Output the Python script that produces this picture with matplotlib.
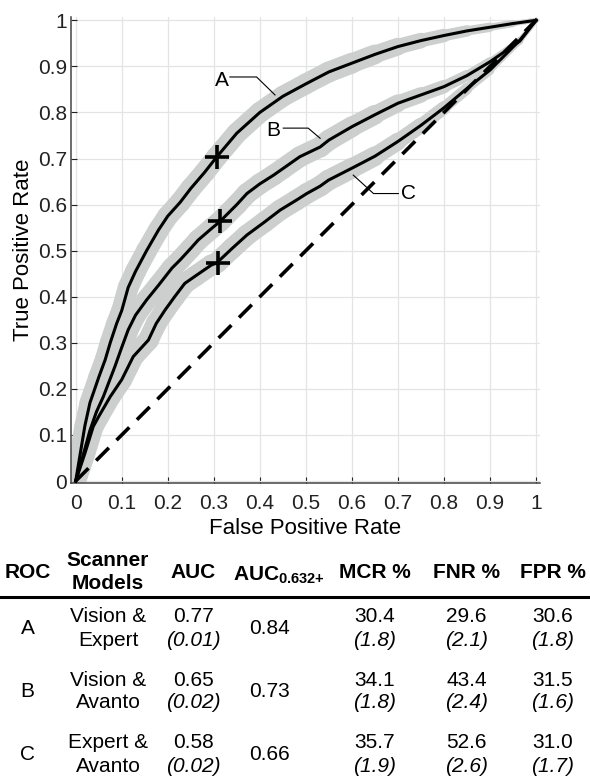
import numpy as np
import matplotlib
matplotlib.use('Agg')
import matplotlib.pyplot as plt
from matplotlib.collections import LineCollection
from matplotlib.lines import Line2D

plt.rcParams['font.family'] = ['Liberation Sans', 'DejaVu Sans']
plt.rcParams['mathtext.fontset'] = 'custom'
plt.rcParams['mathtext.rm'] = 'Liberation Sans'
plt.rcParams['mathtext.bf'] = 'Liberation Sans:bold'
plt.rcParams['mathtext.it'] = 'Liberation Sans:italic'

# ROC curves
fpr_a = [0, 0.01, 0.02, 0.031, 0.038, 0.05, 0.064, 0.075, 0.089, 0.1, 0.114, 0.13, 0.154,
         0.18, 0.2, 0.227, 0.25, 0.28, 0.306, 0.35, 0.4, 0.45, 0.5, 0.55, 0.6, 0.65, 0.7,
         0.75, 0.8, 0.85, 0.9, 0.95, 1.0]
tpr_a = [0, 0.06, 0.12, 0.17, 0.19, 0.225, 0.263, 0.30, 0.342, 0.37, 0.42, 0.455, 0.50,
         0.545, 0.575, 0.605, 0.635, 0.67, 0.703, 0.755, 0.80, 0.835, 0.862, 0.888, 0.907,
         0.926, 0.943, 0.956, 0.967, 0.977, 0.985, 0.993, 1.0]

fpr_b = [0, 0.01, 0.02, 0.031, 0.045, 0.06, 0.085, 0.1, 0.114, 0.13, 0.154, 0.18, 0.209,
         0.227, 0.25, 0.266, 0.295, 0.313, 0.35, 0.372, 0.4, 0.43, 0.45, 0.487, 0.531, 0.55,
         0.6, 0.65, 0.7, 0.75, 0.8, 0.85, 0.9, 0.965, 1.0]
tpr_b = [0, 0.035, 0.07, 0.11, 0.15, 0.183, 0.248, 0.29, 0.328, 0.36, 0.393, 0.425, 0.462,
         0.48, 0.505, 0.523, 0.548, 0.563, 0.60, 0.624, 0.645, 0.664, 0.678, 0.704, 0.725,
         0.74, 0.769, 0.795, 0.82, 0.838, 0.856, 0.88, 0.91, 0.955, 1.0]

fpr_c = [0, 0.01, 0.02, 0.038, 0.05, 0.075, 0.1, 0.114, 0.125, 0.158, 0.175, 0.194, 0.215,
         0.237, 0.26, 0.295, 0.306, 0.34, 0.372, 0.41, 0.444, 0.48, 0.502, 0.531, 0.549,
         0.6, 0.65, 0.7, 0.75, 0.8, 0.85, 0.9, 0.965, 1.0]
tpr_c = [0, 0.03, 0.06, 0.118, 0.14, 0.183, 0.22, 0.248, 0.27, 0.306, 0.342, 0.371, 0.40,
         0.429, 0.445, 0.469, 0.473, 0.505, 0.534, 0.562, 0.588, 0.61, 0.624, 0.64, 0.653,
         0.679, 0.705, 0.737, 0.772, 0.81, 0.852, 0.892, 0.957, 1.0]

# operating points (+)
op_fpr = [0.307, 0.314, 0.31]
op_tpr = [0.703, 0.565, 0.473]

ticks = [0, 0.1, 0.2, 0.3, 0.4, 0.5, 0.6, 0.7, 0.8, 0.9, 1]
tick_labels = ['0', '0.1', '0.2', '0.3', '0.4', '0.5', '0.6', '0.7', '0.8', '0.9', '1']

# table contents
roc_ids = ['A', 'B', 'C']
scanner_top = ['Vision &', 'Vision &', 'Expert &']
scanner_bot = ['Expert', 'Avanto', 'Avanto']
auc = ['0.77', '0.65', '0.58']
auc_sd = ['(0.01)', '(0.02)', '(0.02)']
auc632 = ['0.84', '0.73', '0.66']
mcr = ['30.4', '34.1', '35.7']
mcr_sd = ['(1.8)', '(1.8)', '(1.9)']
fnr = ['29.6', '43.4', '52.6']
fnr_sd = ['(2.1)', '(2.4)', '(2.6)']
fpr_v = ['30.6', '31.5', '31.0']
fpr_sd = ['(1.8)', '(1.6)', '(1.7)']

W, H = 590, 777
fig = plt.figure(figsize=(W / 100, H / 100), dpi=100)
ax = fig.add_axes([71 / W, 1 - 483 / H, 469 / W, 466 / H])


def band(x, y):
    x = np.asarray(x)
    y = np.asarray(y)
    pts = np.column_stack([x, y])
    segs = np.stack([pts[:-1], pts[1:]], axis=1)
    mid = (x[:-1] + x[1:]) / 2
    lw = 15 * np.clip((1.1 - mid) / 0.5, 0.25, 1.0)
    return LineCollection(segs, linewidths=lw, colors='#cdcfce',
                          capstyle='round', joinstyle='round', zorder=2)


for fx, ty in [(fpr_a, tpr_a), (fpr_b, tpr_b), (fpr_c, tpr_c)]:
    ax.add_collection(band(fx, ty))

ax.plot([0, 1], [0, 1], color='black', lw=2.6, ls=(0, (5, 3)), zorder=3)

for fx, ty in [(fpr_a, tpr_a), (fpr_b, tpr_b), (fpr_c, tpr_c)]:
    ax.plot(fx, ty, color='black', lw=2.2, zorder=4, solid_joinstyle='round')

ax.plot(op_fpr, op_tpr, ls='none', marker='+', ms=17, mew=2.6, color='black', zorder=5)

# curve labels with leader lines
ax.text(0.317, 0.870, 'A', fontsize=15, ha='center', va='center', zorder=6)
ax.plot([0.335, 0.393, 0.433], [0.877, 0.877, 0.838], color='black', lw=0.8, zorder=6)
ax.text(0.429, 0.760, 'B', fontsize=15, ha='center', va='center', zorder=6)
ax.plot([0.451, 0.505, 0.531], [0.766, 0.766, 0.744], color='black', lw=0.8, zorder=6)
ax.text(0.724, 0.624, 'C', fontsize=15, ha='center', va='center', zorder=6)
ax.plot([0.603, 0.647, 0.701], [0.664, 0.624, 0.624], color='black', lw=0.8, zorder=6)

ax.set_xlim(-0.0102, 1.0087)
ax.set_ylim(-0.0043, 1.0072)
ax.set_xticks(ticks)
ax.set_xticklabels(tick_labels)
ax.set_yticks(ticks)
ax.set_yticklabels(tick_labels)
ax.tick_params(direction='in', length=4, width=0.8, labelsize=15, colors='#222222')
ax.tick_params(axis='x', pad=8)
ax.tick_params(axis='y', pad=3)
ax.grid(True, color='#e4e4e4', lw=0.9)
ax.set_axisbelow(True)
for s in ['top', 'right']:
    ax.spines[s].set_visible(False)
for s in ['left', 'bottom']:
    ax.spines[s].set_color('#444444')
    ax.spines[s].set_linewidth(1.1)

ax.set_xlabel('False Positive Rate', fontsize=16, va='center')
ax.xaxis.set_label_coords(0.5, (483 - 529) / 466)
ax.set_ylabel('True Positive Rate', fontsize=16, va='center')
ax.yaxis.set_label_coords((23.5 - 71) / 469, 0.5)


def ftext(x, y, s, **kw):
    fig.text(x / W, 1 - y / H, s, ha='center', va='center', **kw)


# table header
hdr_y = 573
ftext(27.5, hdr_y, 'ROC', fontsize=15, fontweight='bold')
ftext(108, 561, 'Scanner', fontsize=15, fontweight='bold')
ftext(108, 583.5, 'Models', fontsize=15, fontweight='bold')
ftext(193, hdr_y, 'AUC', fontsize=15, fontweight='bold')
ftext(279, hdr_y + 2, r'$\mathbf{AUC}_{\mathbf{0.632{+}}}$', fontsize=15)
ftext(375, hdr_y, 'MCR %', fontsize=15, fontweight='bold')
ftext(466.7, hdr_y, 'FNR %', fontsize=15, fontweight='bold')
ftext(553, hdr_y, 'FPR %', fontsize=15, fontweight='bold')

fig.add_artist(Line2D([0, 1], [1 - 597.3 / H, 1 - 597.3 / H], color='black', lw=2.2,
                      transform=fig.transFigure))

# table body
for i in range(3):
    y1 = [617, 680, 742][i]
    y2 = [640, 703, 766.5][i]
    yc = (y1 + y2) / 2
    ftext(27.5, yc, roc_ids[i], fontsize=15)
    ftext(108, y1, scanner_top[i], fontsize=15)
    ftext(108, y2, scanner_bot[i], fontsize=15)
    ftext(193, y1, auc[i], fontsize=15)
    ftext(193, y2, auc_sd[i], fontsize=15, style='italic')
    ftext(270, yc, auc632[i], fontsize=15)
    ftext(375, y1, mcr[i], fontsize=15)
    ftext(375, y2, mcr_sd[i], fontsize=15, style='italic')
    ftext(466.7, y1, fnr[i], fontsize=15)
    ftext(466.7, y2, fnr_sd[i], fontsize=15, style='italic')
    ftext(553, y1, fpr_v[i], fontsize=15)
    ftext(553, y2, fpr_sd[i], fontsize=15, style='italic')

fig.savefig('out.png', dpi=100)
